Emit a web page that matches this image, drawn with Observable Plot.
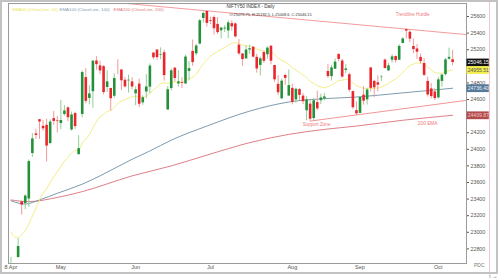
<!DOCTYPE html>
<html><head><meta charset="utf-8">
<script src="https://cdn.jsdelivr.net/npm/d3@7"></script>
<script src="https://cdn.jsdelivr.net/npm/@observablehq/plot@0.6"></script>
<style>html,body{margin:0;padding:0;background:#fff;} #chart{width:500px;height:280px;}</style>
</head><body><div id="chart"></div>
<script>
const dates = [
"2025-04-08","2025-04-09","2025-04-11","2025-04-15","2025-04-16","2025-04-17","2025-04-21","2025-04-22","2025-04-23","2025-04-24","2025-04-25","2025-04-28","2025-04-29","2025-04-30",
"2025-05-02","2025-05-05","2025-05-06","2025-05-07","2025-05-08","2025-05-09","2025-05-12","2025-05-13","2025-05-14","2025-05-15","2025-05-16","2025-05-19","2025-05-20","2025-05-21","2025-05-22","2025-05-23","2025-05-26","2025-05-27","2025-05-28","2025-05-29","2025-05-30",
"2025-06-02","2025-06-03","2025-06-04","2025-06-05","2025-06-06","2025-06-09","2025-06-10","2025-06-11","2025-06-12","2025-06-13","2025-06-16","2025-06-17","2025-06-18","2025-06-19","2025-06-20","2025-06-23","2025-06-24","2025-06-25","2025-06-26","2025-06-27","2025-06-30",
"2025-07-01","2025-07-02","2025-07-03","2025-07-04","2025-07-07","2025-07-08","2025-07-09","2025-07-10","2025-07-11","2025-07-14","2025-07-15","2025-07-16","2025-07-17","2025-07-18","2025-07-21","2025-07-22","2025-07-23","2025-07-24","2025-07-25","2025-07-28","2025-07-29","2025-07-30","2025-07-31",
"2025-08-01","2025-08-04","2025-08-05","2025-08-06","2025-08-07","2025-08-08","2025-08-11","2025-08-12","2025-08-13","2025-08-14","2025-08-18","2025-08-19","2025-08-20","2025-08-21","2025-08-22","2025-08-25","2025-08-26","2025-08-28","2025-08-29",
"2025-09-01","2025-09-02","2025-09-03","2025-09-04","2025-09-05","2025-09-08","2025-09-09","2025-09-10","2025-09-11","2025-09-12","2025-09-15","2025-09-16","2025-09-17","2025-09-18","2025-09-19","2025-09-22","2025-09-23","2025-09-24","2025-09-25","2025-09-26","2025-09-29","2025-09-30",
"2025-10-01","2025-10-03","2025-10-06","2025-10-07","2025-10-08"];

const open = [22446,22460,22695,23368,23345,23401,23949,24186,24357,24277,24289,24070,24370,24342,
24311,24419,24500,24233,24431,23935,24420,24864,24613,24694,25064,25005,24996,24745,24733,24639,25002,24956,24832,24825,24812,
24669,24786,24560,24691,24749,25160,25196,25134,25164,24474,24732,24978,24788,24803,24787,24939,25179,25150,25268,25576,25661,
25551,25588,25505,25428,25450,25427,25514,25511,25255,25149,25089,25196,25230,25108,25011,25166,25139,25243,25010,24783,24609,24890,24642,
24734,24596,24720,24641,24464,24544,24371,24563,24586,24607,24938,24876,24965,25142,25064,24950,24899,24695,24466,
24432,24653,24596,24981,24819,24802,24864,25075,24945,25074,25118,25074,25276,25442,25410,25239,25209,25108,25034,24818,24728,24691,
24620,24818,24900,25085,25079];
const high = [22697,22468,22923,23368,23452,23872,24189,24242,24359,24347,24365,24355,24457,24396,
24590,24526,24509,24449,24447,24164,24944,24973,24767,25070,25116,25062,25011,24946,24737,24909,25079,24958,24865,24892,24863,
24754,24845,24644,24899,25029,25160,25199,25222,25196,24754,24967,24982,24947,24863,25136,25057,25317,25266,25565,25655,25669,
25593,25608,25587,25470,25489,25548,25548,25525,25323,25151,25245,25255,25238,25144,25111,25182,25233,25246,25011,24889,24847,24902,24956,
24784,24736,24733,24671,24634,24585,24614,24702,24664,24674,25022,25012,25089,25154,25084,25021,24919,24702,24572,
24636,24756,24738,24981,24833,24885,24891,25089,25037,25139,25126,25260,25346,25449,25429,25331,25261,25150,25092,24868,24791,24731,
24867,24904,25095,25220,25192];
const low = [22270,22353,22695,23207,23273,23299,23903,24120,24119,24216,23847,24054,24290,24198,
24238,24400,24331,24220,24238,23935,24378,24547,24536,24494,24954,24900,24654,24686,24462,24614,24900,24704,24737,24677,24717,
24526,24502,24530,24613,24671,25077,25073,25079,24824,24473,24703,24813,24750,24733,24783,24824,24999,25125,25259,25523,25473,
25501,25378,25384,25331,25407,25332,25424,25340,25129,25001,25088,25144,25101,24918,24882,25035,25085,25018,24806,24646,24598,24771,24635,
24535,24554,24590,24539,24344,24337,24347,24465,24539,24586,24852,24823,24961,25054,24859,24912,24689,24481,24404,
24432,24531,24533,24690,24622,24693,24815,24979,24940,25038,25038,25070,25270,25329,25286,25151,25084,25027,24878,24629,24606,24588,
24605,24747,24883,25076,25008];
const close = [22535,22399,22829,23328,23437,23852,24125,24167,24329,24247,24039,24328,24336,24334,
24347,24462,24380,24414,24273,24008,24925,24578,24667,25062,25020,24945,24684,24813,24609,24853,25001,24826,24752,24833,24751,
24717,24543,24621,24751,25003,25103,25104,25141,24888,24718,24946,24853,24812,24793,25112,24972,25045,25245,25549,25637,25517,
25542,25453,25406,25461,25461,25523,25476,25355,25150,25082,25196,25212,25111,24968,25091,25061,25220,25062,24837,24681,24821,24855,24768,
24565,24723,24650,24574,24596,24363,24585,24487,24619,24631,24877,24981,25051,25083,24870,24968,24712,24501,24427,
24625,24580,24715,24734,24741,24773,24869,24973,25006,25114,25069,25240,25330,25424,25327,25202,25170,25057,24891,24655,24635,24611,
24837,24894,25078,25108,25046];

const ema20 = [23006,22948,22937,22974,23018,23098,23196,23288,23387,23469,23523,23600,23670,23733,
23792,23856,23906,23954,23985,23987,24076,24124,24176,24260,24332,24391,24419,24456,24471,24507,24554,24580,24596,24619,24632,
24640,24631,24630,24641,24676,24716,24753,24790,24800,24792,24807,24811,24811,24809,24838,24851,24869,24905,24966,25030,25077,
25121,25153,25177,25204,25228,25256,25277,25285,25272,25254,25248,25245,25232,25207,25196,25183,25187,25175,25143,25099,25072,25052,25025,
24981,24956,24927,24894,24865,24818,24796,24766,24752,24741,24754,24775,24801,24828,24832,24845,24832,24801,24765,
24752,24735,24733,24733,24734,24738,24750,24771,24794,24824,24848,24885,24927,24975,25008,25027,25040,25042,25028,24992,24958,24925,
24917,24915,24930,24947,24957];

const ema100Dates = ["2025-04-08","2025-04-16","2025-04-23","2025-04-30","2025-05-12","2025-05-19","2025-05-30","2025-06-06","2025-06-16","2025-06-30","2025-07-16","2025-07-31","2025-08-14","2025-08-29","2025-09-17","2025-10-08"];
const ema100 = [23380,23340,23390,23470,23580,23680,23880,23980,24110,24280,24460,24570,24610,24630,24680,24736];
const ema200Dates = ["2025-04-08","2025-04-17","2025-04-30","2025-05-12","2025-05-30","2025-06-16","2025-06-30","2025-07-16","2025-07-31","2025-08-14","2025-08-29","2025-09-17","2025-10-08"];
const ema200 = [23390,23370,23420,23490,23680,23800,23930,24080,24180,24240,24280,24350,24410];

// right-axis tick labels (25000 and 24400 sit under the price boxes in the reference)
const yTicks = [25600,25400,25200,24800,24600,24200,24000,23800,23600,23400,23200,23000,22800];
const xTickDates = ["2025-04-08","2025-05-02","2025-06-02","2025-07-01","2025-08-01","2025-09-01","2025-10-01"];
const xTickLabels = ["8 Apr","May","Jun","Jul","Aug","Sep","Oct"];

// trendlines (index on trading-day axis, price)
const hurdleIdx = [33, 127.9];
const hurdleVal = [25755, 25382];
const supportIdx = [84, 127.9];
const supportVal = [24340, 24590];

const priceLabels = ["25046.15","24955.51","24736.40","24409.87"];
const priceValues = [25046.15,24955.51,24736.40,24409.87];
const priceFill = ["#111111","#f2ee4e","#56799a","#b04c4c"];
const priceText = ["#ffffff","#555555","#e6eef6","#f5c0c0"];

const legendTexts = ["EMA20 (CloseLine, 20)","EMA100 (CloseLine, 100)","EMA200 (CloseLine, 200)"];
const legendColors = ["#ece548","#7f9db5","#e07a7a"];
const legendOffsets = [4, 51, 105];

// ---- build tables ----
const idx = d => dates.indexOf(d);
const candles = dates.map((d,i)=>({i, open:open[i], high:high[i], low:low[i], close:close[i], up: close[i]>=open[i]}));
const e20 = ema20.map((v,i)=>({i, v}));
const e100 = ema100.map((v,k)=>({i: idx(ema100Dates[k]), v}));
const e200 = ema200.map((v,k)=>({i: idx(ema200Dates[k]), v}));
const hurdle = hurdleIdx.map((i,k)=>({i, v:hurdleVal[k]}));
const support = supportIdx.map((i,k)=>({i, v:supportVal[k]}));
const xTicks = xTickDates.map(idx);
const xLab = new Map(xTicks.map((t,k)=>[t, xTickLabels[k]]));
const xMin = -0.7, xMax = 127.9;
const pl = priceValues.map((v,k)=>({v, t:priceLabels[k], f:priceFill[k], c:priceText[k]}));

const annotations = [
  {i:112.8, v:25624, t:"Trendline Hurdle", s:4.6},
  {i:85.8, v:24299, t:"Support Zone", s:4.6},
  {i:117, v:24311, t:"200 EMA", s:4.8}
];

const upBody = "#23913a", downBody = "#e8262c", upWick = "#8fcf95", downWick = "#f39a9c";

const legendMarks = legendTexts.map((t,k) =>
  Plot.text([t], {frameAnchor:"top-left", dx: legendOffsets[k], dy:4, fill: legendColors[k], fontSize:4.4, textAnchor:"start", lineAnchor:"top"}));

const svg = Plot.plot({
  width: 500, height: 280,
  marginLeft: 8, marginRight: 34, marginTop: 3, marginBottom: 17,
  x: {domain: [xMin, xMax], axis: null},
  y: {domain: [22624, 25757], axis: null},
  style: {background: "#fff", fontFamily: "Liberation Sans, Arial, sans-serif", color: "#555", overflow: "visible"},
  marks: [
    Plot.line(e200, {x:"i", y:"v", stroke:"#d9707a", strokeWidth:0.9, curve:"monotone-x", clip:true}),
    Plot.line(e100, {x:"i", y:"v", stroke:"#6f8ea3", strokeWidth:0.9, curve:"monotone-x", clip:true}),
    Plot.line(e20, {x:"i", y:"v", stroke:"#f3ee86", strokeWidth:1, curve:"monotone-x", clip:true}),
    Plot.line(hurdle, {x:"i", y:"v", stroke:"#f09090", strokeWidth:0.9, clip:true}),
    Plot.line(support, {x:"i", y:"v", stroke:"#f08a8a", strokeWidth:0.9, clip:true}),
    Plot.ruleX(candles, {x:"i", y1:"low", y2:"high", stroke: d => d.up ? upWick : downWick, strokeWidth:1, clip:true}),
    Plot.ruleX(candles, {x:"i", y1:"open", y2:"close", stroke: d => d.up ? upBody : downBody, strokeWidth:2.6, clip:true}),
    Plot.frame({stroke:"#9a9a9a"}),
    Plot.axisY(yTicks, {anchor:"right", tickSize:2, tickPadding:2, fontSize:5.3, tickFormat: d => String(d)}),
    Plot.axisX(xTicks, {anchor:"bottom", tickSize:0, tickPadding:2, fontSize:5.5, tickFormat: d => xLab.get(d)}),
    Plot.ruleY(pl, {y:"v", x1: xMax + 0.15, x2: xMax + 6.4, stroke:"f", strokeWidth:7.8}),
    Plot.text(pl, {y:"v", x: xMax + 3.3, text:"t", fill:"c", fontSize:5.1}),
    Plot.text(annotations, {x:"i", y:"v", text:"t", fill:"#ec7a7c", fontSize: d => d.s}),
    ...legendMarks,
    Plot.text(["NIFTY50 INDEX - Daily"], {frameAnchor:"top-left", dx:218, dy:1, fontSize:4.6, fill:"#333", textAnchor:"start", lineAnchor:"top"}),
    Plot.text(["O:25079.75, H:25192.5, L:25008.6, C:25046.15"], {frameAnchor:"top-left", dx:221, dy:10, fontSize:3.9, fill:"#333", textAnchor:"start", lineAnchor:"top"}),
    Plot.text(["PDC"], {frameAnchor:"bottom-right", dx:18, dy:3, fontSize:5, fill:"#777"})
  ]
});

const s = d3.select(svg);
s.append("line").attr("x1",489.5).attr("x2",489.5).attr("y1",2).attr("y2",272).attr("stroke","#f5c3d3").attr("stroke-width",1);
s.append("rect").attr("x",1).attr("y",1).attr("width",496).attr("height",272).attr("fill","none").attr("stroke","#c2c2c2").attr("stroke-width",2);
document.getElementById("chart").append(svg);
</script>
</body></html>
